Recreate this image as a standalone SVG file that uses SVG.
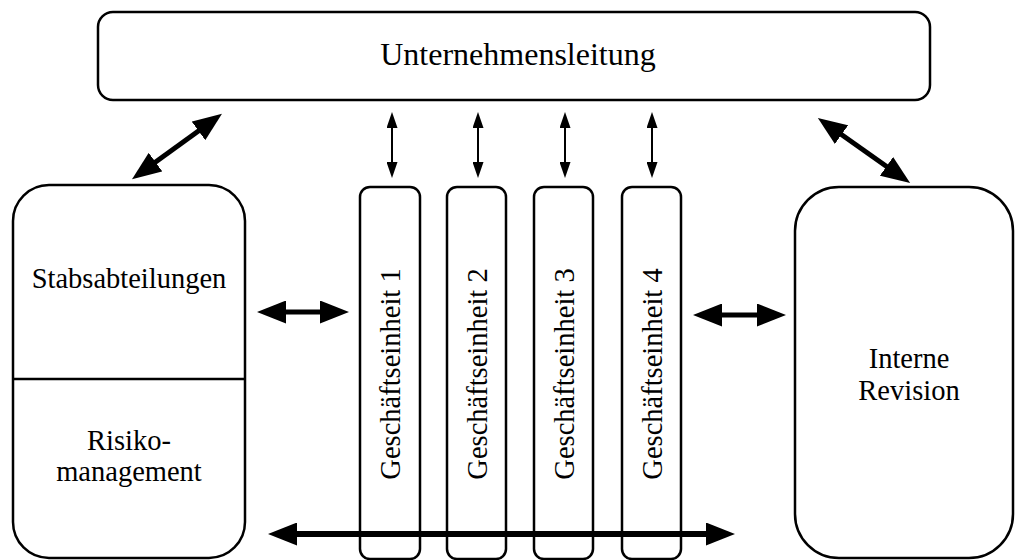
<svg xmlns="http://www.w3.org/2000/svg" width="1018" height="560" viewBox="0 0 1018 560">
  <style>
    .box { fill: #ffffff; stroke: #000000; stroke-width: 2.5; }
    .lbl { font-family: "Liberation Serif", "Times New Roman", serif; font-size: 28.5px; fill: #000000; text-anchor: middle; }
    .big { stroke: #000000; stroke-width: 5; fill: none; marker-start: url(#headBig); marker-end: url(#headBig); }
    .small { stroke: #000000; stroke-width: 2; fill: none; marker-start: url(#headSmall); marker-end: url(#headSmall); }
  </style>
  <defs>
    <marker id="headBig" markerUnits="userSpaceOnUse" markerWidth="29" markerHeight="23" refX="8" refY="11.5" orient="auto-start-reverse">
      <path d="M0,0 L29,11.5 L0,23 Z" fill="#000000"/>
    </marker>
    <marker id="headSmall" markerUnits="userSpaceOnUse" markerWidth="16" markerHeight="11" refX="5" refY="5.5" orient="auto-start-reverse">
      <path d="M0,0 L16,5.5 L0,11 Z" fill="#000000"/>
    </marker>
  </defs>

  <rect width="1018" height="560" fill="#ffffff"/>

  <g id="unternehmensleitung">
    <rect class="box" x="98" y="12" width="832" height="88" rx="15"/>
    <text class="lbl" x="518" y="65" style="font-size:32px">Unternehmensleitung</text>
  </g>

  <g id="stab-risiko">
    <rect class="box" x="13" y="185" width="232" height="373" rx="36"/>
    <line x1="13" y1="379" x2="245" y2="379" stroke="#000000" stroke-width="2.5"/>
    <text class="lbl" x="129" y="288">Stabsabteilungen</text>
    <text class="lbl" x="129" y="450">Risiko-</text>
    <text class="lbl" x="129" y="481">management</text>
  </g>

  <g id="geschaeftseinheit-1">
    <rect class="box" x="360" y="187" width="60" height="372" rx="10"/>
    <text class="lbl" transform="translate(400,374) rotate(-90)">Geschäftseinheit 1</text>
  </g>
  <g id="geschaeftseinheit-2">
    <rect class="box" x="447" y="187" width="59" height="372" rx="10"/>
    <text class="lbl" transform="translate(486.5,374) rotate(-90)">Geschäftseinheit 2</text>
  </g>
  <g id="geschaeftseinheit-3">
    <rect class="box" x="534" y="187" width="59" height="372" rx="10"/>
    <text class="lbl" transform="translate(573.5,374) rotate(-90)">Geschäftseinheit 3</text>
  </g>
  <g id="geschaeftseinheit-4">
    <rect class="box" x="622" y="187" width="59" height="372" rx="10"/>
    <text class="lbl" transform="translate(661.5,374) rotate(-90)">Geschäftseinheit 4</text>
  </g>

  <g id="interne-revision">
    <rect class="box" x="795" y="187" width="218" height="371" rx="44"/>
    <text class="lbl" x="909" y="368">Interne</text>
    <text class="lbl" x="909" y="400">Revision</text>
  </g>

  <g id="connectors">
    <!-- diagonal links to the management box -->
    <line class="big" x1="149" y1="166.8" x2="205" y2="126.2"/>
    <line class="big" x1="835" y1="130" x2="893" y2="171"/>
    <!-- management to business units -->
    <line class="small" x1="392" y1="123" x2="392" y2="167"/>
    <line class="small" x1="478" y1="123" x2="478" y2="167"/>
    <line class="small" x1="565" y1="123" x2="565" y2="167"/>
    <line class="small" x1="652" y1="123" x2="652" y2="167"/>
    <!-- side links -->
    <line class="big" x1="278" y1="312" x2="328" y2="312"/>
    <line class="big" x1="714" y1="315" x2="765" y2="315"/>
    <!-- bottom link across all units -->
    <line class="big" x1="289" y1="534" x2="714" y2="534" style="stroke-width:6"/>
  </g>
</svg>
